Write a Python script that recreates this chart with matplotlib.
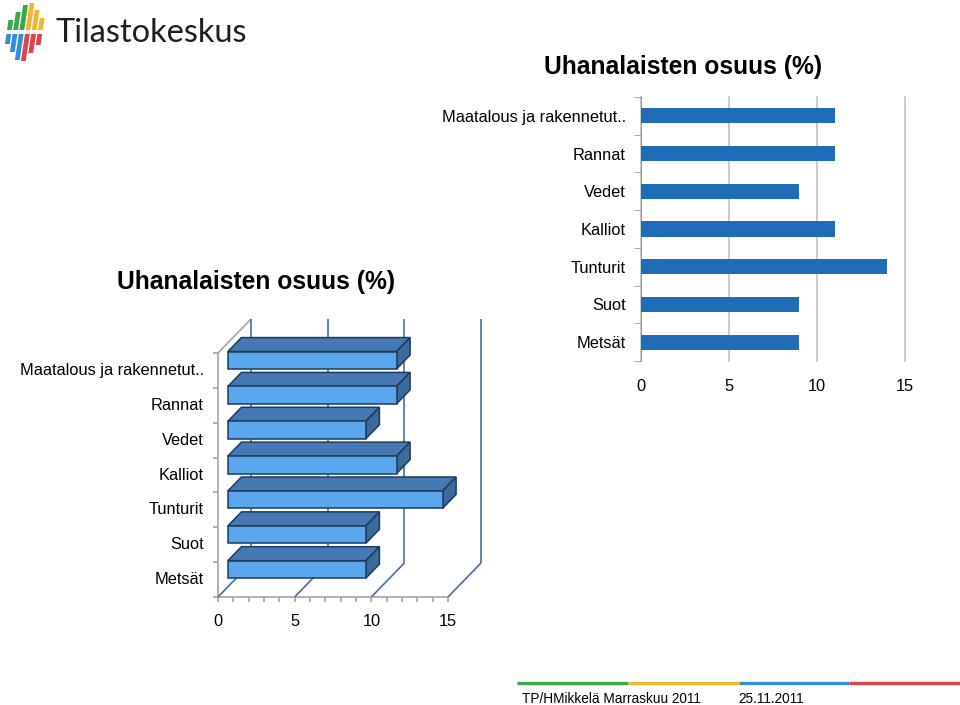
import numpy as np
import matplotlib.pyplot as plt
from matplotlib.patches import Polygon

plt.rcParams['font.family'] = ['Liberation Sans', 'DejaVu Sans']

# data
categories = ['Metsät', 'Suot', 'Tunturit', 'Kalliot', 'Vedet', 'Rannat',
              'Maatalous ja rakennetut..']
values = [9, 9, 14, 11, 9, 11, 11]
xticks = [0, 5, 10, 15]
title = 'Uhanalaisten osuus (%)'
footer_left = 'TP/HMikkelä Marraskuu 2011'
footer_right = '25.11.2011'
footer_colors = ['#3aa948', '#f2b632', '#2f8fd8', '#e0434b']

W, H = 960, 705
fig = plt.figure(figsize=(W / 100, H / 100), dpi=100)


def px_axes(x0, y0, x1, y1):
    return fig.add_axes([x0 / W, 1 - y1 / H, (x1 - x0) / W, (y1 - y0) / H])


# overlay for logo, titles and footer (pixel coords)
bg = fig.add_axes([0, 0, 1, 1])
bg.set_xlim(0, W)
bg.set_ylim(H, 0)
bg.axis('off')

# logo stripes
tops = [20, 12, 5, 3, 10, 18]
bots = [44, 52, 60, 61, 53, 45]
for k in range(6):
    xb = 7 + k * 6.2
    top_c = footer_colors[0] if k < 3 else footer_colors[1]
    bot_c = footer_colors[2] if k < 3 else footer_colors[3]
    s = 0.15
    bg.add_patch(Polygon([(xb, 30), (xb + 4.8, 30),
                          (xb + 4.8 + s * (30 - tops[k]), tops[k]),
                          (xb + s * (30 - tops[k]), tops[k])], color=top_c, lw=0))
    xb2 = xb - s * 4
    bg.add_patch(Polygon([(xb2 - s * (bots[k] - 34), bots[k]),
                          (xb2 + 4.8 - s * (bots[k] - 34), bots[k]),
                          (xb2 + 4.8, 34), (xb2, 34)], color=bot_c, lw=0))
bg.text(56, 33, 'Tilastokeskus', fontsize=23.4, family=['Lato', 'DejaVu Sans'],
        color='#1e1e1e', ha='left', va='center')

bg.text(683, 67, title, fontsize=17.7, fontweight='bold', ha='center', va='center')
bg.text(256, 282, title, fontsize=17.7, fontweight='bold', ha='center', va='center')

# footer
seg = (960 - 517) / 4
for k, c in enumerate(footer_colors):
    bg.plot([517 + k * seg, 517 + (k + 1) * seg], [683, 683], color=c, lw=2.4,
            solid_capstyle='butt')
bg.text(522, 699, footer_left, fontsize=9.8, ha='left', va='center')
bg.text(738, 699, footer_right, fontsize=9.8, ha='left', va='center')

# right chart: flat bars
ax = px_axes(641, 97, 905, 361)
yc = np.arange(len(categories)) + 0.5
ax.barh(yc, values, height=0.4, color='#1f6cb7', zorder=3)
ax.set_xlim(0, 15)
ax.set_ylim(0, len(categories))
ax.set_xticks(xticks)
ax.set_yticks(yc, categories)
ax.set_yticks(np.arange(len(categories) + 1), minor=True)
ax.tick_params(axis='y', which='major', length=0, pad=11, labelsize=11.8)
ax.tick_params(axis='y', which='minor', length=5, color='#9a9a9a')
ax.tick_params(axis='x', length=0, pad=13, labelsize=11.8)
ax.grid(axis='x', color='#c2c2c2', lw=1.2)
for gl in ax.get_xgridlines():
    gl.set_clip_on(False)
ax.set_axisbelow(True)
for s in ['top', 'right', 'bottom']:
    ax.spines[s].set_visible(False)
ax.spines['left'].set_color('#9a9a9a')

# left chart: 3D-looking bars
n = len(categories)
PXU = 230 / 15
PYU = 244 / n
DX, DY = 33 / PXU, 34 / PYU
ax3 = px_axes(218, 316, 492, 597)
ax3.set_xlim(0, 274 / PXU)
ax3.set_ylim(0, 281 / PYU)
ax3.axis('off')

wall = '#a3a3a3'
grid3 = '#46709b'
kw = dict(clip_on=False, lw=1.2, solid_capstyle='butt')
ax3.plot([0, 0], [0, n], color=wall, **kw)
ax3.plot([0, DX], [n, n + DY], color=wall, **kw)
ax3.plot([0, 15], [0, 0], color=wall, **kw)
for v in range(16):
    ax3.plot([v, v], [0, -5 / PYU], color=wall, **kw)
for k in range(n + 1):
    ax3.plot([-5 / PXU, 0], [k, k], color=wall, **kw)
for v in xticks:
    ax3.plot([v, v + DX], [0, DY], color=grid3, **kw)
    ax3.plot([v + DX, v + DX], [DY, n + DY], color=grid3, **kw)

d0, d1 = 0.3, 0.71
front_c, top_c, side_c, edge_c = '#5ba7ee', '#4679b3', '#3b6a9c', '#1c3b5f'


def P(x, y, d):
    return (x + d * DX, y + d * DY)


for i, v in enumerate(values):
    yb, yt = i + 0.25, i + 0.75
    front = [P(0, yb, d0), P(v, yb, d0), P(v, yt, d0), P(0, yt, d0)]
    top = [P(0, yt, d0), P(v, yt, d0), P(v, yt, d1), P(0, yt, d1)]
    side = [P(v, yb, d0), P(v, yt, d0), P(v, yt, d1), P(v, yb, d1)]
    for poly, c in [(top, top_c), (side, side_c), (front, front_c)]:
        ax3.add_patch(Polygon(poly, closed=True, fc=c, ec=edge_c, lw=1.1,
                              zorder=3, joinstyle='miter'))
    ax3.text(-14 / PXU, i + 0.5, categories[i], ha='right', va='center',
             fontsize=11.8, clip_on=False)

for v in xticks:
    ax3.text(v, -24 / PYU, str(v), ha='center', va='center', fontsize=11.8,
             clip_on=False)

fig.savefig('out.png', dpi=100)
